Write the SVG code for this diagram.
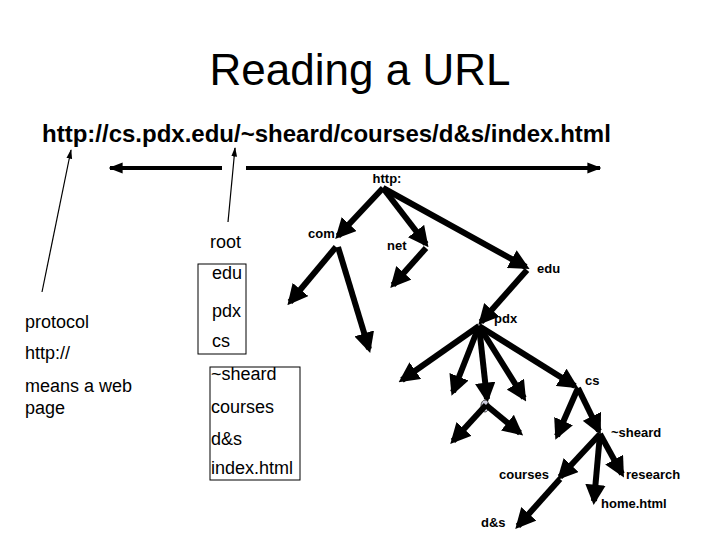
<svg xmlns="http://www.w3.org/2000/svg" width="720" height="540" viewBox="0 0 720 540">
<style>
.t{font-family:"Liberation Sans",Arial,sans-serif;fill:#000}
.b{font-weight:bold;font-size:13px}
.n{font-size:18px}
.e{stroke:#000;stroke-width:6;fill:none;marker-end:url(#h)}
</style>
<defs>
<marker id="h" viewBox="0 0 10 10" refX="8" refY="5" markerWidth="3.4" markerHeight="3.4" orient="auto"><path d="M0,0L10,5L0,10z" fill="#000"/></marker>
<marker id="s" viewBox="0 0 10 10" refX="9" refY="5" markerWidth="8" markerHeight="8" orient="auto"><path d="M0,2L10,5L0,8z" fill="#000"/></marker>
<marker id="m" viewBox="0 0 10 10" refX="9" refY="5" markerWidth="3.5" markerHeight="3.5" orient="auto"><path d="M0,1L10,5L0,9z" fill="#000"/></marker>
</defs>
<rect width="720" height="540" fill="#fff"/>
<text class="t" x="360" y="85" font-size="44" text-anchor="middle">Reading a URL</text>
<text class="t" x="42" y="142" font-size="24" font-weight="bold">http://cs.pdx.edu/~sheard/courses/d&amp;s/index.html</text>
<g id="labels-left">
<text class="t n" x="25" y="328">protocol</text>
<text class="t n" x="25" y="359">http://</text>
<text class="t n" x="25" y="392">means a web</text>
<text class="t n" x="25" y="414">page</text>
<text class="t n" x="210" y="248">root</text>
</g>
<g id="box1"><rect x="198" y="264" width="48" height="90" fill="none" stroke="#000"/>
<text class="t n" x="212" y="279">edu</text><text class="t n" x="212" y="317">pdx</text><text class="t n" x="212" y="347">cs</text></g>
<g id="box2"><rect x="210" y="367" width="90" height="113" fill="none" stroke="#000"/>
<text class="t n" x="211" y="380">~sheard</text><text class="t n" x="211" y="413">courses</text><text class="t n" x="211" y="445">d&amp;s</text><text class="t n" x="211" y="474">index.html</text></g>
<g id="tree-labels">
<text class="t b" x="387" y="183" text-anchor="middle">http:</text>
<text class="t b" x="308" y="238">com</text>
<text class="t b" x="387" y="250">net</text>
<text class="t b" x="537" y="273">edu</text>
<text class="t b" x="494" y="323">pdx</text>
<text class="t b" x="585" y="385">cs</text>
<text class="t b" x="611" y="437">~sheard</text>
<text class="t b" x="499" y="479">courses</text>
<text class="t b" x="626" y="479">research</text>
<text class="t b" x="601" y="508">home.html</text>
<text class="t b" x="481" y="527">d&amp;s</text>
</g>
<g id="connectors">
<line x1="42" y1="292" x2="71" y2="150" stroke="#000" stroke-width="1.2" marker-end="url(#s)"/>
<line x1="228" y1="222" x2="235" y2="148" stroke="#000" stroke-width="1.2" marker-end="url(#s)"/>
<line x1="222" y1="168" x2="110" y2="168" stroke="#000" stroke-width="4" marker-end="url(#m)"/>
<line x1="246" y1="168" x2="600" y2="168" stroke="#000" stroke-width="4" marker-end="url(#m)"/>
<line class="e" x1="383" y1="188" x2="338" y2="236"/>
<line class="e" x1="383" y1="188" x2="426" y2="244"/>
<line class="e" x1="383" y1="188" x2="526" y2="267"/>
<line class="e" x1="336" y1="247" x2="290" y2="302"/>
<line class="e" x1="338" y1="247" x2="369" y2="349"/>
<line class="e" x1="426" y1="248" x2="393" y2="285"/>
<line class="e" x1="527" y1="270" x2="481" y2="322"/>
<line class="e" x1="479" y1="326" x2="402" y2="380"/>
<line class="e" x1="479" y1="326" x2="453" y2="392"/>
<line class="e" x1="479" y1="326" x2="487" y2="399"/>
<line class="e" x1="479" y1="326" x2="524" y2="398"/>
<line class="e" x1="479" y1="326" x2="575" y2="386"/>
<ellipse cx="485" cy="406" rx="4" ry="6" fill="#ccd" stroke="#444"/>
<line class="e" x1="486" y1="405" x2="453" y2="441"/>
<line class="e" x1="486" y1="405" x2="520" y2="433"/>
<line class="e" x1="578" y1="388" x2="557" y2="436"/>
<line class="e" x1="578" y1="388" x2="599" y2="431"/>
<line class="e" x1="600" y1="434" x2="560" y2="477"/>
<line class="e" x1="600" y1="434" x2="594" y2="501"/>
<line class="e" x1="600" y1="434" x2="622" y2="474"/>
<line class="e" x1="560" y1="479" x2="518" y2="526"/>
</g>
</svg>
